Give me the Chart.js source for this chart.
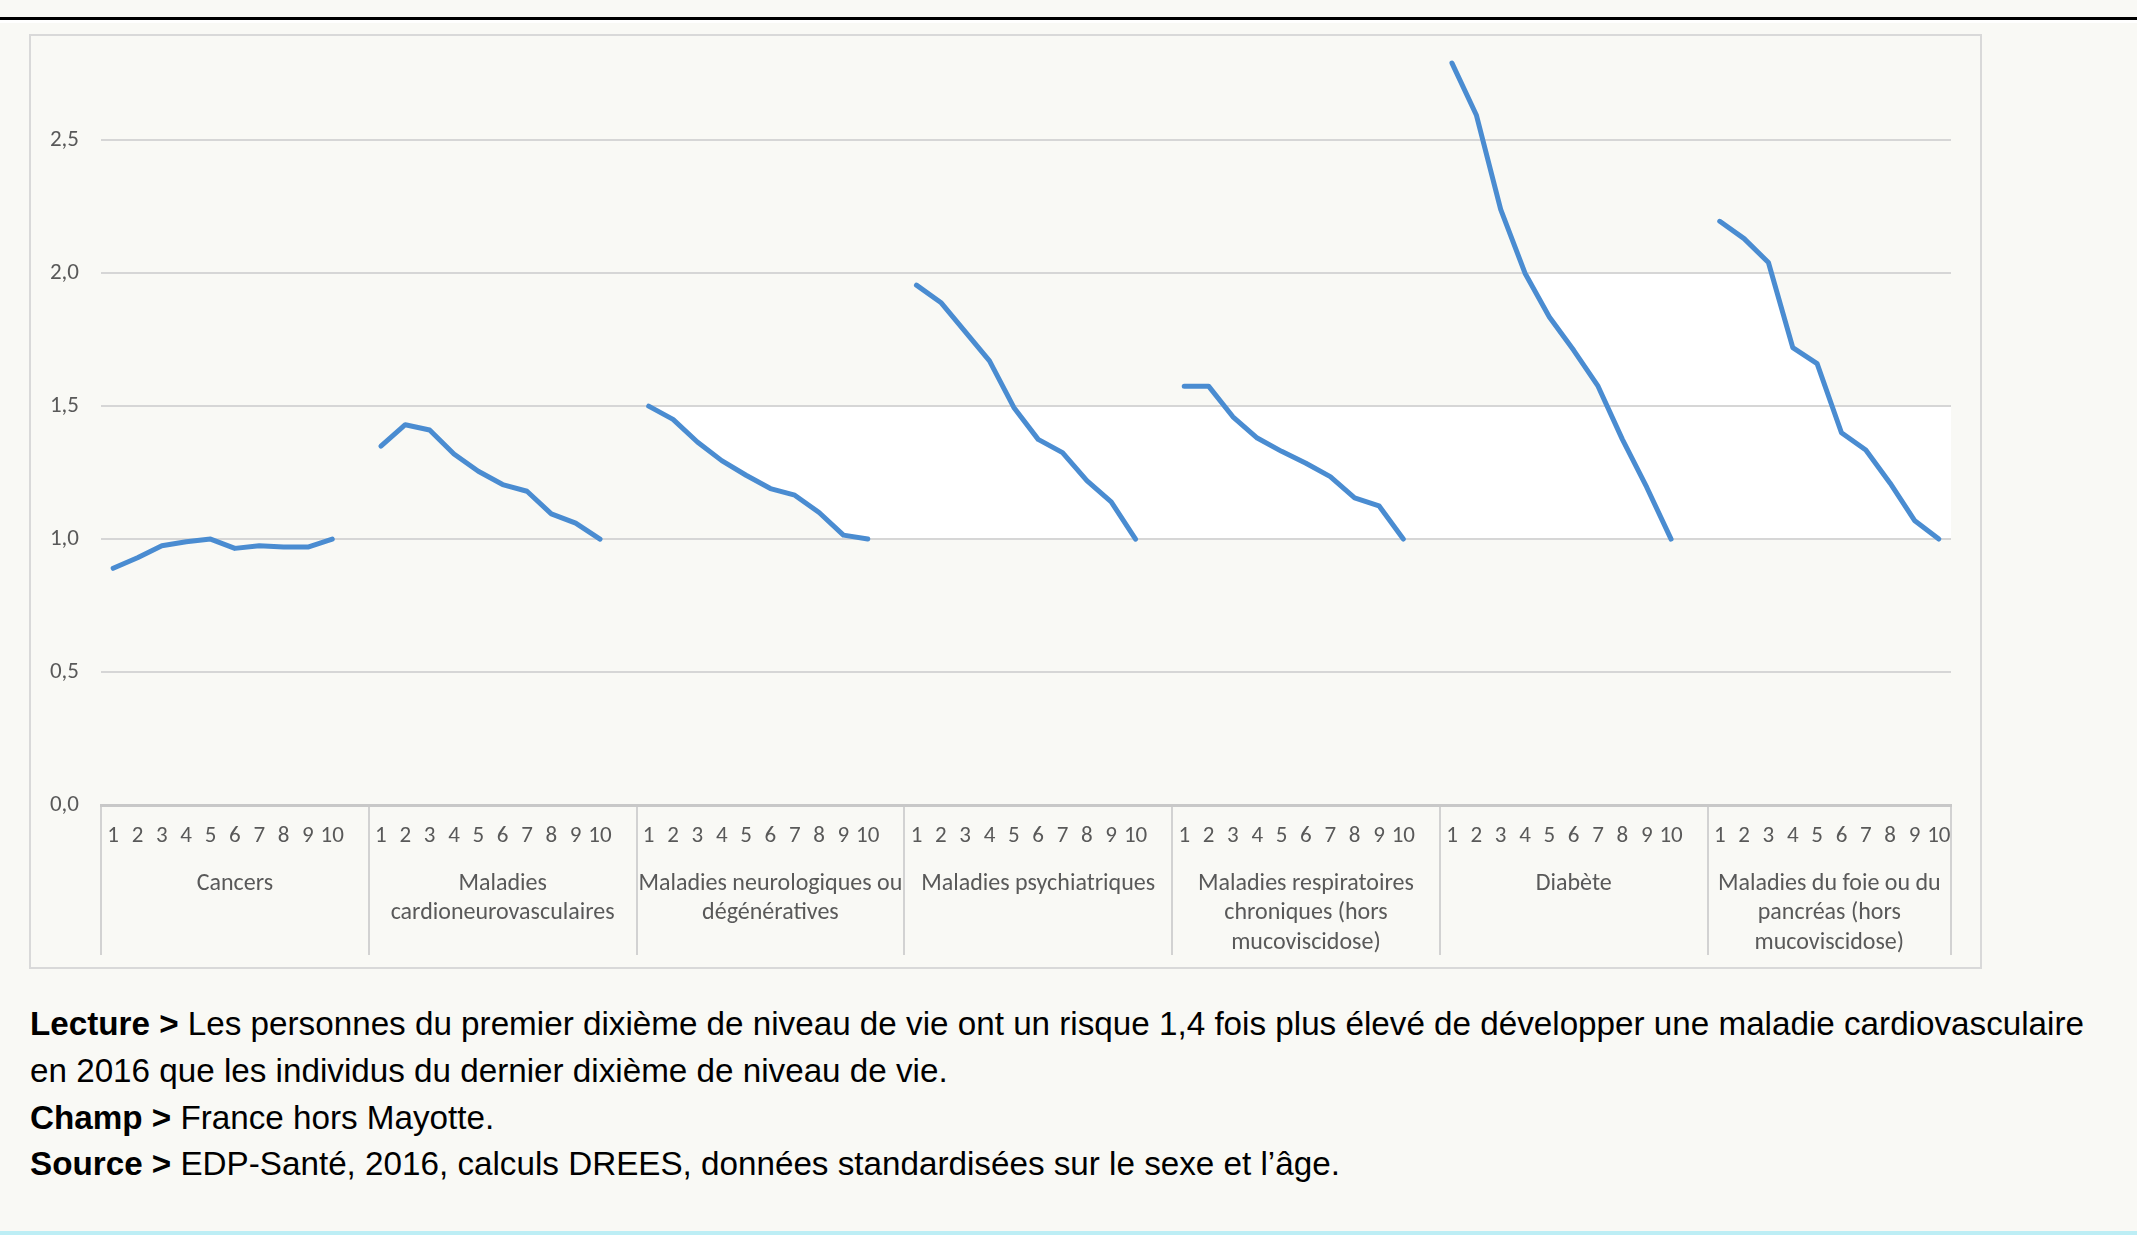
<!DOCTYPE html>
<html><head><meta charset="utf-8">
<script src="https://cdn.jsdelivr.net/npm/chart.js@4/dist/chart.umd.min.js"></script>
<style>
html,body{margin:0;padding:0;background:#f9f9f5;width:2137px;height:1235px;overflow:hidden}
body{position:relative}
#topline{position:absolute;left:0;top:17px;width:2137px;height:3px;background:#000}
#topwhite{position:absolute;left:0;top:20px;width:2137px;height:3px;background:#fff}
#frame{position:absolute;left:29px;top:34px;width:1953px;height:935px;box-sizing:border-box;border:2px solid #d9d9d9}
#wrap{position:absolute;left:30px;top:35px;width:1950px;height:932px}
#caption{position:absolute;left:30px;top:1001px;font-family:"Liberation Sans",Arial,sans-serif;font-size:33px;line-height:46.8px;color:#000;white-space:nowrap;transform-origin:0 0}
#caption span{display:inline-block}
#caption b{font-weight:bold}
#bottomline{position:absolute;left:0;top:1231px;width:2137px;height:4px;background:#bdeef5}
</style></head>
<body>
<div id="topline"></div><div id="topwhite"></div>
<div id="frame"></div>
<div id="wrap"><canvas id="c" width="1950" height="932"></canvas></div>
<div id="caption"><span id="l1"><b>Lecture &gt;</b> Les personnes du premier dixième de niveau de vie ont un risque 1,4 fois plus élevé de développer une maladie cardiovasculaire</span><br>
<span>en 2016 que les individus du dernier dixième de niveau de vie.</span><br>
<span><b>Champ &gt;</b> France hors Mayotte.</span><br>
<span><b>Source &gt;</b> EDP-Santé, 2016, calculs DREES, données standardisées sur le sexe et l’âge.</span></div>
<div id="bottomline"></div>
<script>
const groupNames = [
  "Cancers",
  ["Maladies", "cardioneurovasculaires"],
  ["Maladies neurologiques ou", "dégénératives"],
  "Maladies psychiatriques",
  ["Maladies respiratoires", "chroniques (hors", "mucoviscidose)"],
  "Diabète",
  ["Maladies du foie ou du", "pancréas (hors", "mucoviscidose)"]
];
const deciles = ["1","2","3","4","5","6","7","8","9","10"];
const cancers = [0.89, 0.93, 0.975, 0.99, 1.0, 0.965, 0.975, 0.97, 0.97, 1.0];
const cardio  = [1.35, 1.43, 1.41, 1.32, 1.255, 1.205, 1.18, 1.095, 1.06, 1.0];
const neuro   = [1.50, 1.45, 1.365, 1.295, 1.24, 1.19, 1.165, 1.10, 1.015, 1.0];
const psych   = [1.955, 1.89, 1.78, 1.67, 1.495, 1.375, 1.325, 1.22, 1.14, 1.0];
const resp    = [1.575, 1.575, 1.46, 1.38, 1.33, 1.285, 1.235, 1.155, 1.125, 1.0];
const diab    = [2.79, 2.595, 2.24, 2.0, 1.835, 1.71, 1.575, 1.375, 1.195, 1.0];
const foie    = [2.195, 2.13, 2.04, 1.72, 1.66, 1.40, 1.335, 1.21, 1.07, 1.0];
const yTicks  = [0, 0.5, 1.0, 1.5, 2.0, 2.5];

const series = [cancers, cardio, neuro, psych, resp, diab, foie];
const FONT = "Carlito, Calibri, Lato, sans-serif";
const LINE = "#4a8cd1";

(function(){
  const cap = document.getElementById("caption");
  const w = document.getElementById("l1").getBoundingClientRect().width;
  cap.style.transform = "scaleX(" + (2054 / w) + ")";
})();

const labels = [];
const starts = [];
series.forEach((s, g) => {
  starts.push(labels.length);
  deciles.forEach(d => labels.push(d));
  if (g < series.length - 1) labels.push("");
});
const total = labels.length;
const ends = starts.map((s, g) => g < starts.length - 1 ? starts[g + 1] - 1 : total - 1);
const centers = starts.map((s, g) => (s + ends[g]) / 2);

const datasets = series.map((s, g) => {
  const arr = new Array(total).fill(null);
  s.forEach((v, i) => { arr[starts[g] + i] = v; });
  return {
    label: Array.isArray(groupNames[g]) ? groupNames[g].join(" ") : groupNames[g],
    data: arr, borderColor: LINE, backgroundColor: LINE,
    borderWidth: 5, pointRadius: 0, tension: 0, spanGaps: false,
    borderJoinStyle: "round", borderCapStyle: "round", clip: false,
    xAxisID: "x", yAxisID: "y"
  };
});

const bandPlugin = {
  id: "bands",
  beforeDraw(chart) {
    const x = chart.scales.x, y = chart.scales.y, ctx = chart.ctx;
    const ca = chart.chartArea;
    ctx.save();
    ctx.fillStyle = "#ffffff";
    const gN = 2;
    ctx.beginPath();
    series[gN].forEach((v, i) => {
      const px = x.getPixelForValue(starts[gN] + i), py = y.getPixelForValue(v);
      if (i === 0) ctx.moveTo(px, py); else ctx.lineTo(px, py);
    });
    ctx.lineTo(ca.right, y.getPixelForValue(1.0));
    ctx.lineTo(ca.right, y.getPixelForValue(1.5));
    ctx.closePath();
    ctx.fill();
    ctx.beginPath();
    ctx.rect(ca.left, y.getPixelForValue(2.0), ca.right - ca.left, y.getPixelForValue(1.5) - y.getPixelForValue(2.0));
    ctx.clip();
    ctx.beginPath();
    const gD = 5, gF = 6;
    series[gD].forEach((v, i) => {
      const px = x.getPixelForValue(starts[gD] + i), py = y.getPixelForValue(v);
      if (i === 0) ctx.moveTo(px, py); else ctx.lineTo(px, py);
    });
    for (let i = series[gF].length - 1; i >= 0; i--) {
      ctx.lineTo(x.getPixelForValue(starts[gF] + i), y.getPixelForValue(series[gF][i]));
    }
    ctx.closePath();
    ctx.fill();
    ctx.restore();
  }
};

new Chart(document.getElementById("c"), {
  type: "line",
  data: { labels, datasets },
  plugins: [bandPlugin],
  options: {
    responsive: false, animation: false, devicePixelRatio: 1,
    layout: { padding: { top: 0, right: 29, left: 0, bottom: 0 } },
    plugins: { legend: { display: false }, tooltip: { enabled: false } },
    scales: {
      x: {
        type: "category", position: "bottom", offset: true,
        grid: {
          offset: true, drawOnChartArea: false, drawTicks: true, tickLength: 150, lineWidth: 2,
          color: c => (c.type !== "tick" || starts.includes(c.index)) ? "#d2d2d2" : "rgba(0,0,0,0)"
        },
        border: { display: true, color: "#c8c8c8", width: 3 },
        ticks: { autoSkip: false, maxRotation: 0, minRotation: 0, padding: -133, color: "#595959",
                 font: { family: FONT, size: 23 } },
        afterFit: s => { s.height = 60; }
      },
      xg: {
        type: "linear", position: "bottom", min: -0.5, max: total - 0.5,
        grid: { display: false }, border: { display: false },
        afterBuildTicks: s => { s.ticks = centers.map(v => ({ value: v })); },
        ticks: { autoSkip: false, maxRotation: 0, minRotation: 0, padding: -4, color: "#595959",
                 font: { family: FONT, size: 24, lineHeight: 1.23 },
                 callback: (v, i) => groupNames[i] },
        afterFit: s => { s.height = 102; }
      },
      y: {
        min: 0, max: 2.761,
        afterBuildTicks: s => { s.ticks = yTicks.map(v => ({ value: v })); },
        grid: { color: "#d6d6d6", lineWidth: 2, drawTicks: false },
        border: { display: false },
        ticks: { padding: 22, color: "#595959", font: { family: FONT, size: 23 },
                 callback: v => Number(v).toFixed(1).replace(".", ",") },
        afterFit: s => { s.width = 71; }
      }
    }
  }
});
</script>
</body></html>
